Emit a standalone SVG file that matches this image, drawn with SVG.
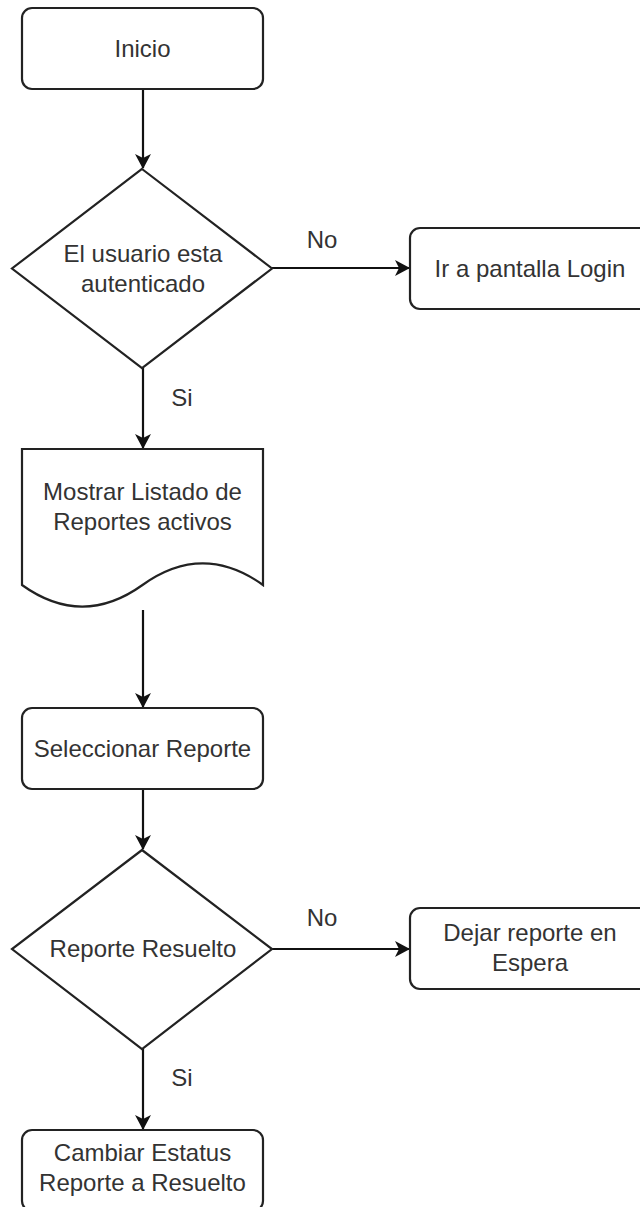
<svg xmlns="http://www.w3.org/2000/svg" width="640" height="1207" viewBox="0 0 640 1207">
<style>
.shape{fill:#ffffff;stroke:#222222;stroke-width:2.2}
.edge{fill:none;stroke:#111111;stroke-width:2.2}
text{font-family:"Liberation Sans",Arial,sans-serif;font-size:24px;fill:#333333;text-anchor:middle}
</style>
<defs>
<marker id="arrow" markerUnits="userSpaceOnUse" viewBox="0 0 15 16" refX="14" refY="8" markerWidth="15" markerHeight="16" orient="auto">
<path d="M0,0 L15,8 L0,16 L4,8 Z" fill="#111111"/>
</marker>
</defs>
<rect width="640" height="1207" fill="#ffffff"/>
<g id="connectors">
<line class="edge" x1="143" y1="89" x2="143" y2="168" marker-end="url(#arrow)"/>
<line class="edge" x1="272" y1="268" x2="409" y2="268" marker-end="url(#arrow)"/>
<text x="322" y="248">No</text>
<line class="edge" x1="143" y1="368" x2="143" y2="448" marker-end="url(#arrow)"/>
<text x="182" y="406">Si</text>
<line class="edge" x1="143" y1="610" x2="143" y2="707" marker-end="url(#arrow)"/>
<line class="edge" x1="143" y1="789" x2="143" y2="849" marker-end="url(#arrow)"/>
<line class="edge" x1="272" y1="949" x2="409" y2="949" marker-end="url(#arrow)"/>
<text x="322" y="926">No</text>
<line class="edge" x1="143" y1="1049" x2="143" y2="1129" marker-end="url(#arrow)"/>
<text x="182" y="1086">Si</text>
</g>
<g id="inicio">
<rect class="shape" x="22" y="8" width="241" height="81" rx="10"/>
<text x="142.5" y="57">Inicio</text>
</g>
<g id="autenticado">
<polygon class="shape" points="142,169 272,268.5 142,368 12,268.5"/>
<text x="143" y="261.5">El usuario esta</text>
<text x="143" y="291.5">autenticado</text>
</g>
<g id="login">
<rect class="shape" x="410" y="228" width="241" height="81" rx="10"/>
<text x="530" y="276.5">Ir a pantalla Login</text>
</g>
<g id="listado">
<path class="shape" d="M22,449 H263 V585 Q202.75,541.8 142.5,585 Q82.25,628.2 22,585 Z"/>
<text x="142.5" y="500">Mostrar Listado de</text>
<text x="142.5" y="530">Reportes activos</text>
</g>
<g id="seleccionar">
<rect class="shape" x="22" y="708" width="241" height="81" rx="10"/>
<text x="142.5" y="757">Seleccionar Reporte</text>
</g>
<g id="resuelto">
<polygon class="shape" points="142,850 272,949 142,1049 12,949"/>
<text x="143" y="957">Reporte Resuelto</text>
</g>
<g id="espera">
<rect class="shape" x="410" y="908" width="241" height="81" rx="10"/>
<text x="530" y="941">Dejar reporte en</text>
<text x="530" y="971">Espera</text>
</g>
<g id="cambiar">
<rect class="shape" x="22" y="1130" width="241" height="81" rx="10"/>
<text x="142.5" y="1161">Cambiar Estatus</text>
<text x="142.5" y="1191">Reporte a Resuelto</text>
</g>
</svg>
